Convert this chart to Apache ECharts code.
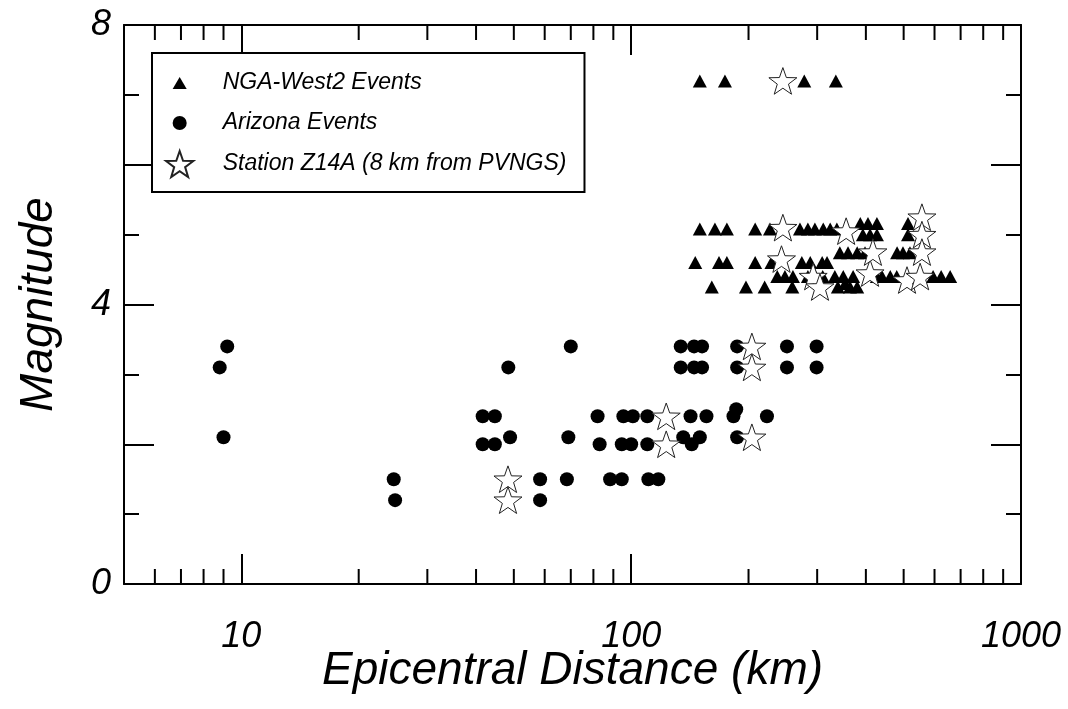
<!DOCTYPE html>
<html>
<head>
<meta charset="utf-8">
<script src="https://cdn.jsdelivr.net/npm/echarts@6/dist/echarts.min.js"></script>
<style>
  html, body { margin: 0; padding: 0; background: #fff; }
  #chart { width: 1068px; height: 709px; }
</style>
</head>
<body>
<div id="chart"></div>
<script>
// [epicentral distance (km), magnitude]
const ngaWest2Events = [
  [150, 7.2], [174, 7.2], [278, 7.2], [335, 7.2],
  [150, 5.08], [164, 5.08], [176, 5.08], [208, 5.08], [227, 5.08], [271, 5.08],
  [284, 5.08], [296, 5.08], [311, 5.08], [324, 5.08], [337, 5.08],
  [387, 5.16], [405, 5.16], [427, 5.16], [513, 5.16],
  [393, 5.0], [410, 5.0], [427, 5.0], [513, 5.0],
  [146, 4.6], [168, 4.6], [176, 4.6], [208, 4.6], [229, 4.6], [274, 4.6],
  [288, 4.6], [309, 4.6], [318, 4.6],
  [343, 4.74], [360, 4.74], [380, 4.74], [398, 4.74], [481, 4.74], [498, 4.74], [519, 4.74],
  [237, 4.4], [248, 4.4], [260, 4.4], [284, 4.4], [297, 4.4], [310, 4.4], [333, 4.4],
  [350, 4.4], [371, 4.4], [427, 4.4], [440, 4.4], [462, 4.4], [480, 4.4],
  [595, 4.4], [624, 4.4], [658, 4.4],
  [161, 4.25], [197, 4.25], [220, 4.25], [259, 4.25], [339, 4.25], [354, 4.3],
  [364, 4.25], [380, 4.25]
];

const arizonaEvents = [
  [9.2, 3.4], [8.8, 3.1], [9.0, 2.1],
  [24.6, 1.5], [24.8, 1.2],
  [41.6, 2.4], [44.7, 2.4], [41.6, 2.0], [44.7, 2.0], [48.9, 2.1], [48.4, 3.1],
  [70, 3.4], [134, 3.4], [145, 3.4], [152, 3.4], [187, 3.4], [251, 3.4], [299, 3.4],
  [134, 3.1], [145, 3.1], [152, 3.1], [187, 3.1], [251, 3.1], [299, 3.1],
  [82, 2.4], [95.5, 2.4], [101, 2.4], [110, 2.4], [142, 2.4], [156, 2.4],
  [186, 2.5], [183, 2.4], [223, 2.4],
  [69, 2.1], [83, 2.0], [94.6, 2.0], [100, 2.0], [110, 2.0],
  [136, 2.1], [150, 2.1], [143, 2.0], [187, 2.1],
  [58.4, 1.5], [68.4, 1.5], [88.3, 1.5], [94.6, 1.5], [110.7, 1.5], [117.4, 1.5],
  [58.4, 1.2]
];

const stationZ14A = [
  [48.3, 1.5], [48.3, 1.2], [123, 2.4], [123, 2.0],
  [204, 3.4], [204, 3.1], [204, 2.1], [245, 7.2],
  [245, 5.1], [243, 4.65], [293, 4.4], [305, 4.25], [356, 5.05],
  [410, 4.45], [417, 4.75], [510, 4.35], [551, 4.4],
  [557, 5.25], [557, 5.0], [557, 4.75]
];

// unlabeled log-axis tick positions between the decades
const xMinorTicks = [6, 7, 8, 9, 20, 30, 40, 50, 60, 70, 80, 90, 200, 300, 400, 500, 600, 700, 800, 900];
const xTickLabels = [10, 100, 1000];
const yTickLabels = [0, 4, 8];

const seriesNames = ['NGA-West2 Events', 'Arizona Events', 'Station Z14A (8 km from PVNGS)'];

const FONT = 'Liberation Sans';
const STAR = 'path://M50 0 L61.76 33.82 L97.55 34.55 L69.02 56.18 L79.39 90.45 L50 70 L20.61 90.45 L30.98 56.18 L2.45 34.55 L38.24 33.82 Z';
// legend icons padded with corner moves so they draw smaller than the star
const LEGEND_TRIANGLE = 'path://M0 0 M100 100 M50 27 L77 73 L23 73 Z';
const LEGEND_CIRCLE = 'path://M0 0 M100 100 M77 50 A27 27 0 1 1 23 50 A27 27 0 1 1 77 50 Z';

const axisLine = { show: true, onZero: false, lineStyle: { color: '#000', width: 2 } };
const majorTick = { show: true, inside: true, length: 30, lineStyle: { color: '#000', width: 2 } };

const baseX = {
  type: 'log', logBase: 10, min: 5, max: 1000,
  axisLine: axisLine, axisTick: majorTick, splitLine: { show: false }
};
const baseY = {
  type: 'value', min: 0, max: 8, interval: 2,
  axisLine: axisLine, axisTick: majorTick,
  minorTick: { show: true, splitNumber: 2, length: 15, lineStyle: { color: '#000', width: 2 } },
  splitLine: { show: false }, minorSplitLine: { show: false }
};

const chart = echarts.init(document.getElementById('chart'), null, { renderer: 'canvas' });

chart.setOption({
  backgroundColor: '#fff',
  animation: false,
  grid: { left: 124, right: 47, top: 25, bottom: 125, containLabel: false, outerBoundsMode: 'none' },
  xAxis: [
    Object.assign({}, baseX, {
      position: 'bottom',
      name: 'Epicentral Distance (km)',
      nameLocation: 'middle',
      nameGap: 64,
      nameMoveOverlap: false,
      nameTextStyle: { fontFamily: FONT, fontStyle: 'italic', fontSize: 46, color: '#000' },
      axisLabel: {
        show: true, margin: 35, showMinLabel: false,
        fontFamily: FONT, fontStyle: 'italic', fontSize: 36, color: '#000',
        formatter: v => (xTickLabels.indexOf(Math.round(v)) >= 0 ? String(Math.round(v)) : '')
      }
    }),
    Object.assign({}, baseX, { position: 'top', axisLabel: { show: false } })
  ],
  yAxis: [
    Object.assign({}, baseY, {
      position: 'left',
      name: 'Magnitude',
      nameLocation: 'middle',
      nameGap: 62,
      nameMoveOverlap: false,
      nameTextStyle: { fontFamily: FONT, fontStyle: 'italic', fontSize: 46, color: '#000' },
      axisLabel: {
        show: true, margin: 13,
        fontFamily: FONT, fontStyle: 'italic', fontSize: 36, color: '#000',
        formatter: v => (yTickLabels.indexOf(v) >= 0 ? String(v) : '')
      }
    }),
    Object.assign({}, baseY, { position: 'right', axisLabel: { show: false } })
  ],
  legend: {
    orient: 'vertical',
    left: 152, top: 53,
    padding: [17, 18, 14, 13],
    itemWidth: 32, itemHeight: 26, itemGap: 14,
    selectedMode: false,
    backgroundColor: '#fff',
    borderColor: '#000', borderWidth: 2,
    textStyle: { fontFamily: FONT, fontStyle: 'italic', fontSize: 23, color: '#000', padding: [0, 0, 0, 22] },
    data: [
      { name: seriesNames[0], icon: LEGEND_TRIANGLE },
      { name: seriesNames[1], icon: LEGEND_CIRCLE },
      { name: seriesNames[2], icon: STAR }
    ]
  },
  series: [
    {
      type: 'custom',
      name: 'minor ticks',
      silent: true,
      clip: false,
      xAxisIndex: 0, yAxisIndex: 0,
      data: xMinorTicks.map(v => [v, 0]),
      encode: { x: 0, y: 1 },
      renderItem: function (params, api) {
        const v = api.value(0);
        const b = api.coord([v, 0]);
        const t = api.coord([v, 8]);
        const st = { stroke: '#000', lineWidth: 2 };
        return {
          type: 'group',
          children: [
            { type: 'line', shape: { x1: b[0], y1: b[1], x2: b[0], y2: b[1] - 15 }, style: st },
            { type: 'line', shape: { x1: t[0], y1: t[1], x2: t[0], y2: t[1] + 15 }, style: st }
          ]
        };
      }
    },
    {
      type: 'scatter',
      name: seriesNames[0],
      data: ngaWest2Events,
      symbol: 'triangle',
      symbolSize: [14, 13],
      itemStyle: { color: '#000', opacity: 1 },
      z: 3
    },
    {
      type: 'scatter',
      name: seriesNames[1],
      data: arizonaEvents,
      symbol: 'circle',
      symbolSize: 14,
      itemStyle: { color: '#000', opacity: 1 },
      z: 3
    },
    {
      type: 'scatter',
      name: seriesNames[2],
      data: stationZ14A,
      symbol: STAR,
      symbolKeepAspect: true,
      symbolSize: 28,
      itemStyle: { color: '#fff', opacity: 1, borderColor: '#222', borderWidth: 1 },
      z: 4
    }
  ]
});
</script>
</body>
</html>
